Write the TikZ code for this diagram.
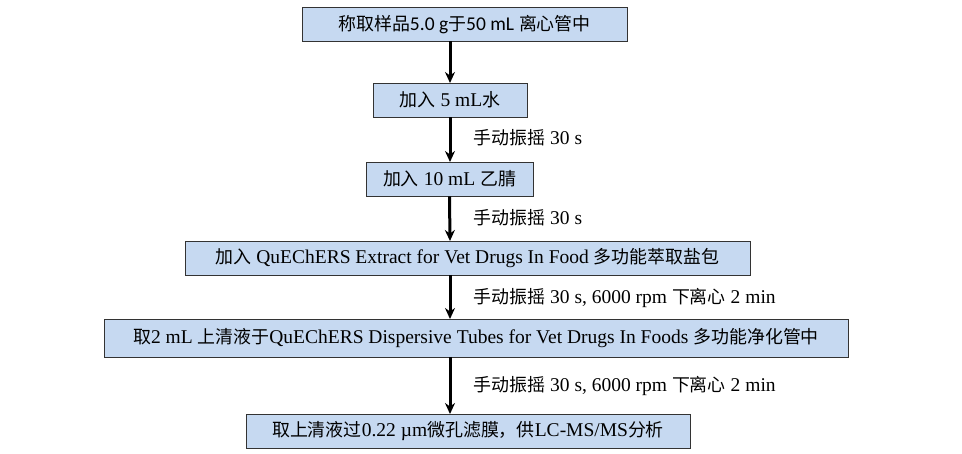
\documentclass[tikz,border=0pt]{standalone}
\usepackage{fontspec}
\setmainfont{Liberation Serif}
\newfontfamily\cjk[Scale=0.92]{Noto Sans CJK SC}
\newfontfamily\carlitofont{Carlito}
\newcommand{\zh}[1]{{\cjk #1}}
\usetikzlibrary{arrows.meta}
\begin{document}
\begin{tikzpicture}[x=1pt,y=-1pt,
  stepbox/.style={draw=black!80,fill={rgb,255:red,198;green,217;blue,241},line width=0.8pt,minimum height=34pt,inner xsep=4pt,font=\fontsize{19.5}{21}\selectfont},
  flow/.style={-{Stealth[length=11pt,width=10pt]},line width=3pt},
  lbl/.style={anchor=west,font=\fontsize{19.5}{21}\selectfont}]
\useasboundingbox (0,0) rectangle (962,454);
\node[stepbox,minimum width=325pt] (b1) at (464.5,24.5) {\zh{称取样品}{\carlitofont 5.0 g}\zh{于}{\carlitofont 50 mL} \zh{离心管中}};
\node[stepbox,minimum width=154pt] (b2) at (450,100) {\zh{加入} 5 mL\zh{水}};
\node[stepbox,minimum width=167pt] (b3) at (449.5,179) {\zh{加入} 10 mL \zh{乙腈}};
\node[stepbox,minimum width=565pt] (b4) at (467.5,258) {\zh{加入} QuEChERS Extract for Vet Drugs In Food \zh{多功能萃取盐包}};
\node[stepbox,minimum width=744pt,minimum height=38pt] (b5) at (476,338) {\zh{取}2 mL \zh{上清液于}QuEChERS Dispersive Tubes for Vet Drugs In Foods \zh{多功能净化管中}};
\node[stepbox,minimum width=444pt] (b6) at (468,431.5) {\zh{取上清液过}0.22 µm\zh{微孔滤膜，供}LC-MS/MS\zh{分析}};
\coordinate (a1) at (450,41.5);
\draw[flow] (a1) -- (450,83);
\draw[flow] (b2.south) -- (450,162);
\draw[flow] (b3.south) -- (450,241);
\draw[flow] (450,275) -- (450,319);
\draw[flow] (450,357) -- (450,414);
\node[lbl] (l1) at (470,138) {\zh{手动振摇} 30 s};
\node[lbl] (l2) at (470,218) {\zh{手动振摇} 30 s};
\node[lbl] (l3) at (470,298) {\zh{手动振摇} 30 s, 6000 rpm \zh{下离心} 2 min};
\node[lbl] (l4) at (470,386) {\zh{手动振摇} 30 s, 6000 rpm \zh{下离心} 2 min};
\end{tikzpicture}
\end{document}
